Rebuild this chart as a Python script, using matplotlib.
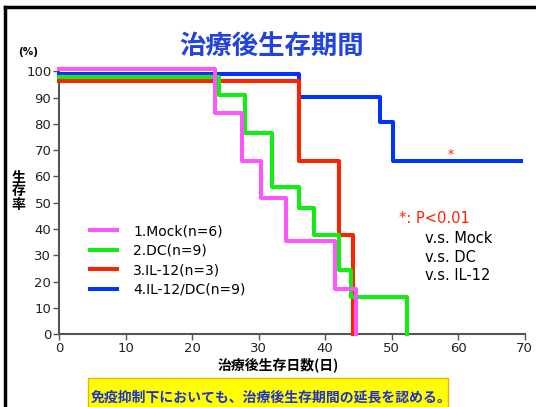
import matplotlib
matplotlib.use('Agg')
import matplotlib.pyplot as plt
from matplotlib.patches import Rectangle
from matplotlib.lines import Line2D

plt.rcParams['font.family'] = ['DejaVu Sans', 'Noto Sans CJK JP']
JP = ['Noto Sans CJK JP', 'DejaVu Sans']

# 生存曲線（読み取り値）
mock_days = [0, 23.4, 27.5, 30.3, 34.1, 41.5, 44.6]
mock_surv = [101, 84, 66, 51.6, 35.5, 17.2, 0]
dc_days = [0, 24, 28, 32, 36, 38.4, 42.1, 43.9, 52.3]
dc_surv = [97.7, 90.8, 76.5, 55.8, 47.8, 37.7, 24.4, 14.1, 0]
il12_days = [0, 36, 42.1, 44.2]
il12_surv = [96.2, 65.7, 37.7, 0]
il12dc_days = [0, 36.1, 48.3, 50.2, 69.5]
il12dc_surv = [99, 90.2, 80.8, 65.7, 65.7]

labels = ['1.Mock(n=6)', '2.DC(n=9)', '3.IL-12(n=3)', '4.IL-12/DC(n=9)']
colors = ['#ff55ff', '#11ee11', '#ff2200', '#0033ff']
xticks = [0, 10, 20, 30, 40, 50, 60, 70]
yticks = [0, 10, 20, 30, 40, 50, 60, 70, 80, 90, 100]

fig = plt.figure(figsize=(5.36, 4.07), dpi=100)
ax = fig.add_axes([0.110, 0.179, 0.869, 0.646])

series = [(il12dc_days, il12dc_surv, colors[3]),
          (il12_days, il12_surv, colors[2]),
          (dc_days, dc_surv, colors[1]),
          (mock_days, mock_surv, colors[0])]
for d, s, c in series:
    ax.step(d, s, where='post', color=c, lw=2.9, clip_on=False, zorder=3)

ax.set_xlim(0, 70)
ax.set_ylim(0, 100)
ax.set_xticks(xticks)
ax.set_yticks(yticks)
for sp in ['top', 'right']:
    ax.spines[sp].set_visible(False)
for sp in ['left', 'bottom']:
    ax.spines[sp].set_color('#555555')
    ax.spines[sp].set_linewidth(1.5)
ax.tick_params(direction='out', length=4, width=1, color='#555555',
               labelcolor='#222222', labelsize=9.5, pad=1.5)

fig.text(0.519, 0.104, '治療後生存日数(日)', fontsize=10, fontweight='bold',
         ha='center', va='center', family=JP)
fig.text(0.034, 0.53, '生\n存\n率', fontsize=10, fontweight='bold',
         ha='center', va='center', linespacing=0.95, family=JP)
fig.text(0.052, 0.865, '(%)', fontsize=7.5, fontweight='bold', ha='center')
fig.text(0.507, 0.887, '治療後生存期間', fontsize=19, fontweight='bold',
         color='#2244dd', ha='center', va='center', family=JP)

handles = [Line2D([], [], color=c, lw=2.9) for c in colors]
ax.legend(handles, labels, loc='upper left', bbox_to_anchor=(0.055, 0.44),
          frameon=False, fontsize=10, handlelength=1.9, handletextpad=1.2,
          labelspacing=0.4, borderaxespad=0)

ax.text(58.9, 68.5, '*', color='#ff2200', fontsize=9, ha='center', va='center')
fig.text(0.745, 0.452, '*: P<0.01', color='#ff2200', fontsize=10.5)
for i, t in enumerate(['v.s. Mock', 'v.s. DC', 'v.s. IL-12']):
    fig.text(0.792, 0.403 - i * 0.046, t, fontsize=10.5)

# 下の黄色い枠
fig.patches.append(Rectangle((0.165, -0.01), 0.671, 0.082, transform=fig.transFigure,
                             facecolor='#ffff00', edgecolor='#f0b000', lw=1))
fig.text(0.505, 0.024, '免疫抑制下においても、治療後生存期間の延長を認める。',
         color='#2233cc', fontsize=10, fontweight='bold', ha='center', va='center',
         family=JP)

# 外枠
fig.add_artist(Line2D([0.009, 1.0], [0.983, 0.983], transform=fig.transFigure,
                      color='black', lw=2.5))
fig.add_artist(Line2D([0.009, 0.009], [0.0, 0.983], transform=fig.transFigure,
                      color='black', lw=2.5))

fig.savefig('out.png', dpi=100)
